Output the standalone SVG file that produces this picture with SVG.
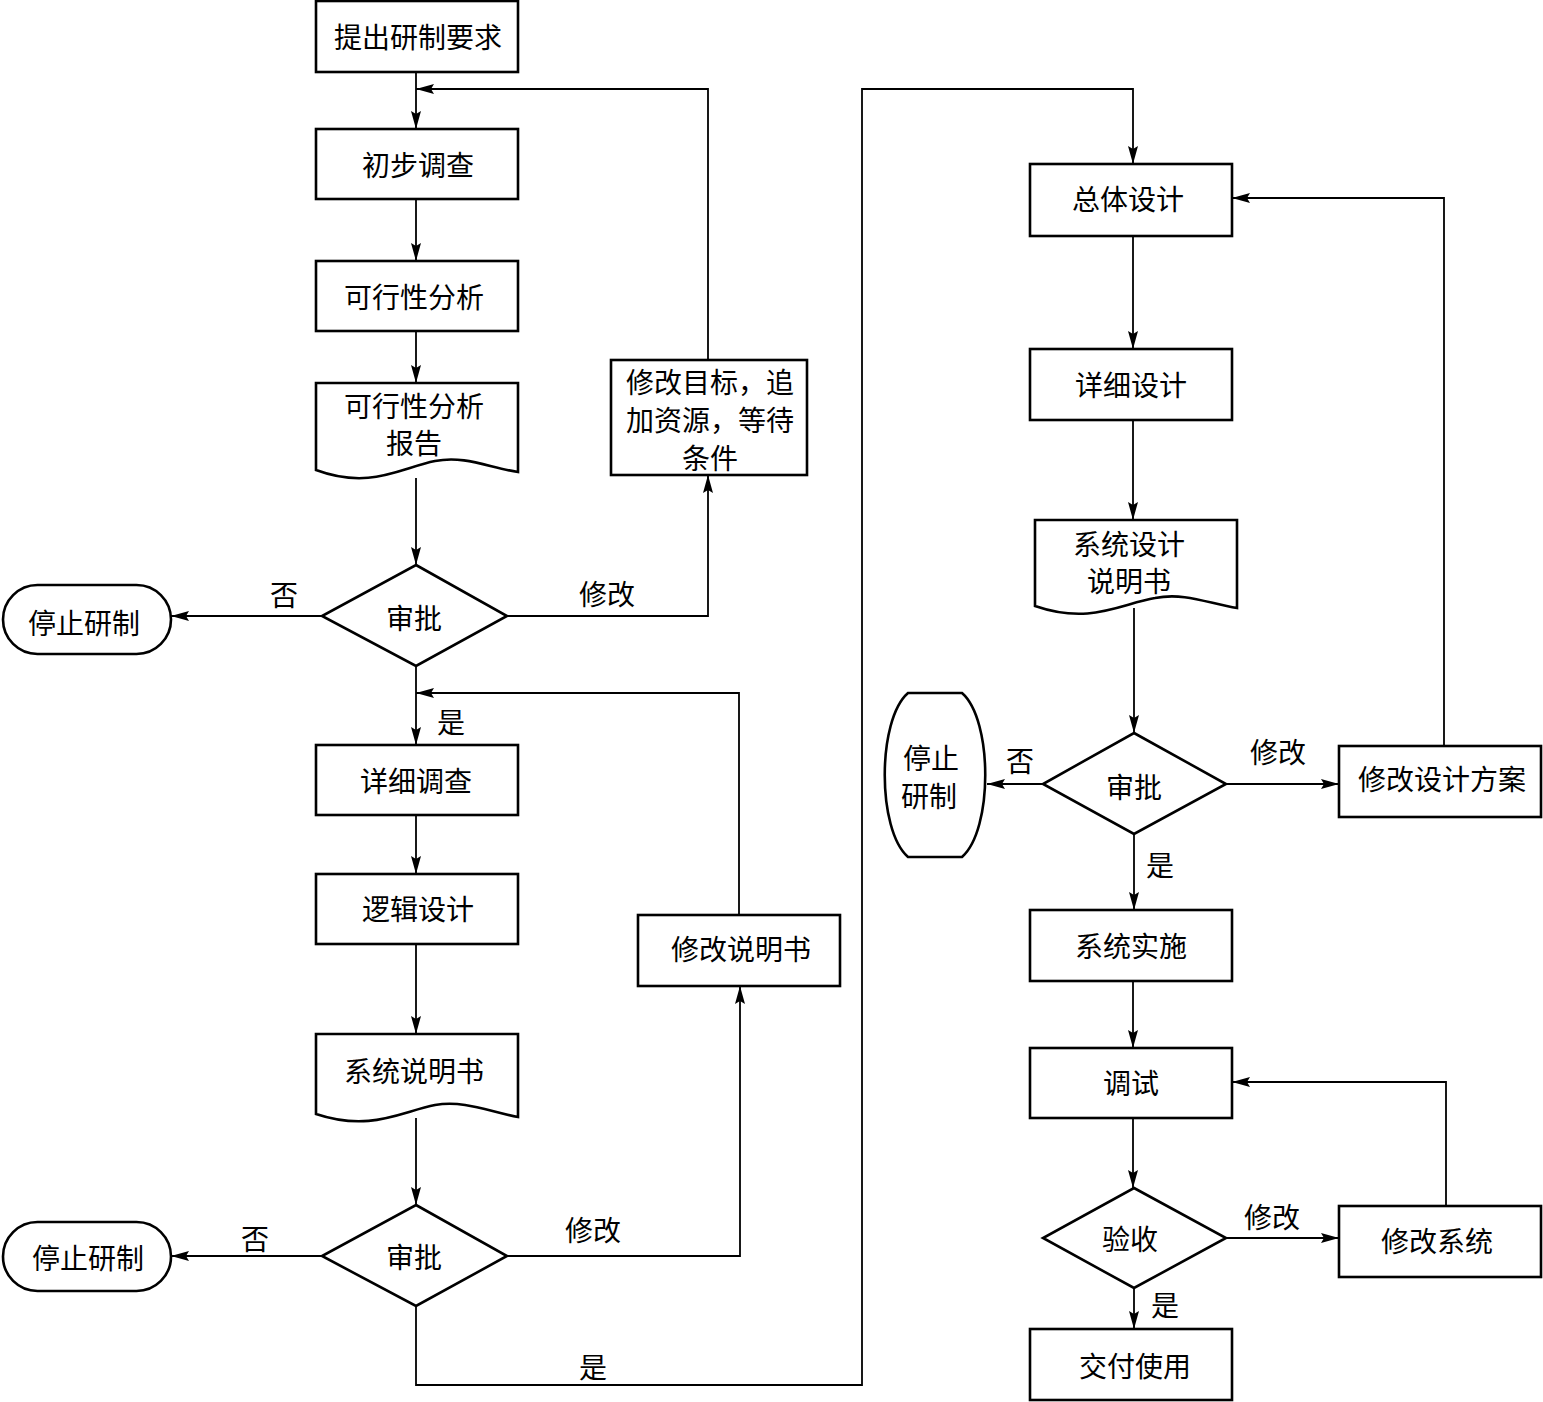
<svg xmlns="http://www.w3.org/2000/svg" width="1543" height="1402" viewBox="0 0 1543 1402">
<defs>
<style>
.n{fill:#fff;stroke:#000;stroke-width:2.6}
.c{fill:none;stroke:#000;stroke-width:1.8}
text{font-family:"Noto Sans CJK SC","Noto Sans",sans-serif;font-size:28px;fill:#000;text-anchor:middle;dominant-baseline:central}
</style>
<marker id="a" viewBox="0 0 18 10" refX="18" refY="5" markerWidth="18" markerHeight="10" markerUnits="userSpaceOnUse" orient="auto">
<path d="M0,0 L18,5 L0,10 L3,5 Z" fill="#000"/>
</marker>
</defs>
<rect width="1543" height="1402" fill="#fff"/>
<g id="connectors">
<path class="c" d="M416,72 V129" marker-end="url(#a)"/>
<path class="c" d="M416,199 V261" marker-end="url(#a)"/>
<path class="c" d="M416,331 V383" marker-end="url(#a)"/>
<path class="c" d="M416,478 V565" marker-end="url(#a)"/>
<path class="c" d="M322,616 H171" marker-end="url(#a)"/>
<path class="c" d="M507,616 H708 V475" marker-end="url(#a)"/>
<path class="c" d="M708,360 V89 H416" marker-end="url(#a)"/>
<path class="c" d="M416,666 V745" marker-end="url(#a)"/>
<path class="c" d="M739,915 V693 H416" marker-end="url(#a)"/>
<path class="c" d="M416,815 V874" marker-end="url(#a)"/>
<path class="c" d="M416,944 V1034" marker-end="url(#a)"/>
<path class="c" d="M416,1118 V1205" marker-end="url(#a)"/>
<path class="c" d="M322,1256 H171" marker-end="url(#a)"/>
<path class="c" d="M507,1256 H740 V986" marker-end="url(#a)"/>
<path class="c" d="M416,1306 V1385 H862 V89 H1133 V164" marker-end="url(#a)"/>
<path class="c" d="M1133,236 V349" marker-end="url(#a)"/>
<path class="c" d="M1133,420 V520" marker-end="url(#a)"/>
<path class="c" d="M1134,608 V733" marker-end="url(#a)"/>
<path class="c" d="M1043,784 H987" marker-end="url(#a)"/>
<path class="c" d="M1226,784 H1339" marker-end="url(#a)"/>
<path class="c" d="M1444,746 V198 H1232" marker-end="url(#a)"/>
<path class="c" d="M1134,834 V910" marker-end="url(#a)"/>
<path class="c" d="M1133,981 V1048" marker-end="url(#a)"/>
<path class="c" d="M1133,1118 V1188" marker-end="url(#a)"/>
<path class="c" d="M1226,1238 H1339" marker-end="url(#a)"/>
<path class="c" d="M1446,1206 V1082 H1232" marker-end="url(#a)"/>
<path class="c" d="M1134,1288 V1329" marker-end="url(#a)"/>
<text x="284" y="594">否</text>
<text x="607" y="593">修改</text>
<text x="451" y="721">是</text>
<text x="255" y="1238">否</text>
<text x="593" y="1229">修改</text>
<text x="593" y="1366">是</text>
<text x="1020" y="760">否</text>
<text x="1278" y="751">修改</text>
<text x="1160" y="864">是</text>
<text x="1272" y="1216">修改</text>
<text x="1165" y="1304">是</text>
</g>
<g id="n1"><rect class="n" x="316" y="1" width="202" height="71"/><text x="418" y="36">提出研制要求</text></g>
<g id="n2"><rect class="n" x="316" y="129" width="202" height="70"/><text x="418" y="164">初步调查</text></g>
<g id="n3"><rect class="n" x="316" y="261" width="202" height="70"/><text x="414" y="296">可行性分析</text></g>
<g id="n4"><path class="n" d="M316,383 H518 V472 C490,468 465,455 435,461 C400,468 370,490 316,470 Z"/><text x="414" y="405">可行性分析</text><text x="414" y="442">报告</text></g>
<g id="d1"><path class="n" d="M416,565 L507,616 L416,666 L322,616 Z"/><text x="414" y="617">审批</text></g>
<g id="s1"><rect class="n" x="3" y="585" width="168" height="69" rx="34.5"/><text x="84" y="622">停止研制</text></g>
<g id="m1"><rect class="n" x="611" y="360" width="196" height="115"/><text x="710" y="381">修改目标，追</text><text x="710" y="419">加资源，等待</text><text x="710" y="457">条件</text></g>
<g id="n5"><rect class="n" x="316" y="745" width="202" height="70"/><text x="416" y="780">详细调查</text></g>
<g id="n6"><rect class="n" x="316" y="874" width="202" height="70"/><text x="418" y="908">逻辑设计</text></g>
<g id="n7"><path class="n" d="M316,1034 H518 V1117 C490,1112 465,1100 435,1105 C400,1112 370,1132 316,1114 Z"/><text x="414" y="1070">系统说明书</text></g>
<g id="m2"><rect class="n" x="638" y="915" width="202" height="71"/><text x="741" y="948">修改说明书</text></g>
<g id="d2"><path class="n" d="M416,1205 L507,1256 L416,1306 L322,1256 Z"/><text x="414" y="1256">审批</text></g>
<g id="s2"><rect class="n" x="3" y="1222" width="168" height="69" rx="34.5"/><text x="88" y="1257">停止研制</text></g>
<g id="n8"><rect class="n" x="1030" y="164" width="202" height="72"/><text x="1128" y="198">总体设计</text></g>
<g id="n9"><rect class="n" x="1030" y="349" width="202" height="71"/><text x="1131" y="384">详细设计</text></g>
<g id="n10"><path class="n" d="M1035,520 H1237 V608 C1210,604 1185,592 1155,598 C1120,604 1090,625 1035,606 Z"/><text x="1129" y="543">系统设计</text><text x="1129" y="580">说明书</text></g>
<g id="d3"><path class="n" d="M1134,733 L1226,784 L1134,834 L1043,784 Z"/><text x="1134" y="786">审批</text></g>
<g id="s3"><path class="n" d="M908,693 H962 C993,720 993,830 962,857 H908 C877,830 877,720 908,693 Z"/><text x="931" y="757">停止</text><text x="929" y="795">研制</text></g>
<g id="m3"><rect class="n" x="1339" y="746" width="202" height="71"/><text x="1442" y="778">修改设计方案</text></g>
<g id="n11"><rect class="n" x="1030" y="910" width="202" height="71"/><text x="1131" y="945">系统实施</text></g>
<g id="n12"><rect class="n" x="1030" y="1048" width="202" height="70"/><text x="1131" y="1082">调试</text></g>
<g id="d4"><path class="n" d="M1134,1188 L1226,1238 L1134,1288 L1043,1238 Z"/><text x="1130" y="1238">验收</text></g>
<g id="m4"><rect class="n" x="1339" y="1206" width="202" height="71"/><text x="1437" y="1240">修改系统</text></g>
<g id="n13"><rect class="n" x="1030" y="1329" width="202" height="71"/><text x="1135" y="1365">交付使用</text></g>
</svg>
